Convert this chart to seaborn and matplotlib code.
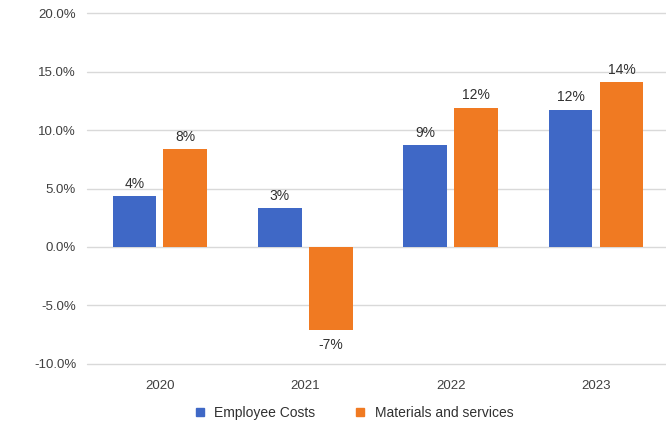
import matplotlib
matplotlib.use("Agg")
import matplotlib.pyplot as plt
import seaborn as sns
import pandas as pd
from matplotlib.ticker import FuncFormatter
from matplotlib.lines import Line2D

years = ["2020", "2021", "2022", "2023"]
employee_costs = [4.35, 3.3, 8.7, 11.75]
materials_services = [8.35, -7.1, 11.9, 14.1]
series_names = ["Employee Costs", "Materials and services"]
colors = ["#3F68C6", "#F07A22"]

df = pd.DataFrame({
    "year": years * 2,
    "value": employee_costs + materials_services,
    "series": [series_names[0]] * 4 + [series_names[1]] * 4,
})

sns.set_theme(style="white")
plt.rcParams["font.family"] = ["Liberation Sans", "DejaVu Sans"]

fig = plt.figure(figsize=(6.66, 4.28), dpi=100)
ax = fig.add_axes([0.131, 0.150, 0.873, 0.819])

sns.barplot(data=df, x="year", y="value", hue="series", palette=colors,
            width=0.70, gap=0.14, ax=ax, legend=False, saturation=1,
            linewidth=0, edgecolor="none")

ax.set_ylim(-10, 20)
ax.set_yticks(range(-10, 21, 5))
ax.yaxis.set_major_formatter(FuncFormatter(lambda v, p: f"{v:.1f}%"))
ax.grid(axis="y", color="#D9D9D9", linewidth=1)
for gl in ax.get_ygridlines():
    gl.set_clip_on(False)
ax.set_axisbelow(True)
for s in ax.spines.values():
    s.set_visible(False)
ax.set_xlabel("")
ax.set_ylabel("")
ax.tick_params(axis="both", length=0, labelsize=9.5, colors="#404040", pad=8)
ax.tick_params(axis="x", pad=12)

for cont in ax.containers:
    for bar in cont:
        v = bar.get_height()
        x = bar.get_x() + bar.get_width() / 2
        if v >= 0:
            ax.annotate(f"{v:.0f}%", (x, v), xytext=(0, 4), textcoords="offset points",
                        ha="center", va="bottom", fontsize=10, color="#303030")
        else:
            ax.annotate(f"{v:.0f}%", (x, v), xytext=(0, -6), textcoords="offset points",
                        ha="center", va="top", fontsize=10, color="#303030")

handles = [Line2D([], [], marker="s", linestyle="", color=c, markersize=6) for c in colors]
fig.legend(handles, series_names, loc="center", bbox_to_anchor=(0.525, 0.035),
           ncol=2, frameon=False, fontsize=10, handletextpad=0.05,
           columnspacing=2.2, labelcolor="#303030")

fig.savefig("out.png", dpi=100)
